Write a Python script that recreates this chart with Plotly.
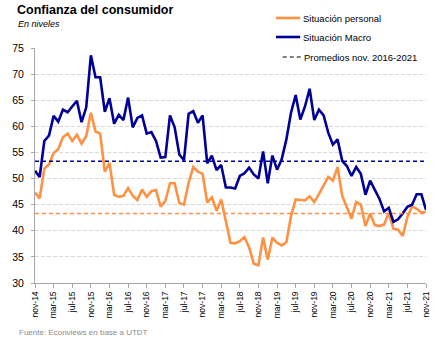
import plotly.graph_objects as go

# Etiquetas mensuales nov-14 ... nov-21
MESES = ["ene", "feb", "mar", "abr", "may", "jun", "jul", "ago", "sep", "oct", "nov", "dic"]
periodos = []
anio, mes = 2014, 10
for _ in range(85):
    periodos.append(f"{MESES[mes]}-{str(anio)[2:]}")
    mes += 1
    if mes == 12:
        mes = 0
        anio += 1

situacion_personal = [
    47.3, 46.2, 51.9, 52.7, 54.9, 55.6, 57.9, 58.6, 57.2, 58.4, 56.7, 58.1,
    62.6, 59.0, 58.6, 51.3, 53.0, 46.9, 46.5, 46.7, 48.2, 46.7, 45.9, 47.9,
    46.5, 47.6, 47.8, 44.6, 45.7, 49.1, 49.1, 45.3, 45.0, 49.2, 52.2, 51.3,
    50.9, 45.4, 46.4, 43.8, 46.0, 41.5, 37.7, 37.6, 38.0, 38.8, 36.8, 33.7,
    33.4, 38.7, 34.5, 38.7, 37.7, 37.2, 37.8, 42.8, 46.0, 45.9, 45.8, 46.6,
    45.5, 47.0, 48.8, 50.3, 49.6, 52.2, 46.7, 44.6, 42.3, 45.5, 45.0, 40.9,
    43.3, 41.1, 40.9, 41.2, 43.4, 40.4, 40.2, 39.0, 42.6, 44.7, 44.2, 43.5,
    43.6,
]

situacion_macro = [
    51.5, 50.3, 57.2, 58.2, 62.0, 60.9, 63.2, 62.7, 63.8, 64.9, 60.8, 63.6,
    73.6, 69.4, 69.4, 62.8, 65.4, 60.5, 62.2, 61.2, 65.5, 59.8, 61.6, 62.1,
    58.6, 58.9, 57.2, 54.0, 54.1, 62.1, 59.8, 54.6, 53.5, 62.4, 62.9, 60.7,
    62.1, 52.9, 54.4, 51.6, 52.6, 48.3, 48.3, 48.1, 50.5, 51.0, 52.1, 50.8,
    50.0, 55.2, 49.1, 54.4, 51.7, 53.7, 57.5, 62.6, 66.0, 61.3, 63.8, 67.2,
    61.2, 63.2, 62.1, 58.8, 56.5, 57.5, 53.4, 52.4, 50.5, 52.2, 50.9, 46.9,
    49.6, 47.9, 46.1, 43.7, 44.4, 41.7, 42.2, 43.3, 44.6, 45.0, 47.0, 47.0,
    44.0,
]

# Promedios nov. 2016-2021
promedio_personal = 43.3
promedio_macro = 53.3

tick_periodos = periodos[::4]
y_ticks = [30, 35, 40, 45, 50, 55, 60, 65, 70, 75]

NARANJA = "#FF9142"
AZUL = "#000099"
FUENTE = "Liberation Sans, Arial, sans-serif"
GUION = "4px,3px"

fig = go.Figure()

fig.add_trace(go.Scatter(
    x=periodos, y=situacion_personal, mode="lines",
    name="Situación personal", line=dict(color=NARANJA, width=2.6),
))
fig.add_trace(go.Scatter(
    x=periodos, y=situacion_macro, mode="lines",
    name="Situación Macro", line=dict(color=AZUL, width=2.6),
))
fig.add_trace(go.Scatter(
    x=periodos, y=[promedio_macro] * len(periodos), mode="lines",
    name="Promedio Situación Macro", hoverinfo="skip",
    line=dict(color=AZUL, width=1.4, dash=GUION),
))
fig.add_trace(go.Scatter(
    x=periodos, y=[promedio_personal] * len(periodos), mode="lines",
    name="Promedio Situación personal", hoverinfo="skip",
    line=dict(color=NARANJA, width=1.4, dash=GUION),
))

L, T, W, H = 24, 48, 404, 235


def px_x(p):
    return (p - L) / W


def px_y(p):
    return (T + H - p) / H


# Leyenda dibujada a mano: muestra de línea + texto
leyenda = [
    ("Situación personal", NARANJA, 2.6, "solid", 273, 298, 18),
    ("Situación Macro", AZUL, 2.6, "solid", 273, 298, 37),
    ("Promedios nov. 2016-2021", "#000000", 1.2, GUION, 280, 299, 57),
]
shapes = []
annotations = []
for texto, color, ancho, estilo, x0, x1, yc in leyenda:
    shapes.append(dict(
        type="line", xref="paper", yref="paper",
        x0=px_x(x0), x1=px_x(x1), y0=px_y(yc), y1=px_y(yc),
        line=dict(color=color, width=ancho, dash=estilo),
    ))
    annotations.append(dict(
        text=texto, x=px_x(x1 + 1), y=px_y(yc), xref="paper", yref="paper",
        xanchor="left", yanchor="middle", showarrow=False,
        font=dict(size=9.5, color="#000000"),
    ))

annotations += [
    dict(text="<b>Confianza del consumidor</b>", x=px_x(3), y=px_y(10),
         xref="paper", yref="paper", xanchor="left", yanchor="middle",
         showarrow=False, font=dict(size=12.5, color="#000000")),
    dict(text="<i>En niveles</i>", x=px_x(4), y=px_y(24),
         xref="paper", yref="paper", xanchor="left", yanchor="middle",
         showarrow=False, font=dict(size=9, color="#000000")),
    dict(text="Fuente: Econviews en base a UTDT", x=px_x(5), y=px_y(332),
         xref="paper", yref="paper", xanchor="left", yanchor="middle",
         showarrow=False, font=dict(size=8, color="#8c8c8c")),
]

fig.update_layout(
    width=443, height=340,
    margin=dict(l=L, r=443 - L - W, t=T, b=340 - T - H, pad=0),
    paper_bgcolor="white", plot_bgcolor="white",
    font=dict(family=FUENTE, size=9, color="#000000"),
    showlegend=False,
    xaxis=dict(
        type="category", range=[0, len(periodos) - 1],
        tickmode="array", tickvals=tick_periodos, ticktext=tick_periodos,
        tickangle=-90, tickfont=dict(size=8.5),
        ticks="outside", ticklen=4, tickcolor="#a6a6a6",
        showline=True, linecolor="#a6a6a6", linewidth=1,
        showgrid=False, zeroline=False,
    ),
    yaxis=dict(
        range=[30, 75], tickmode="array", tickvals=y_ticks,
        tickfont=dict(size=10.5), ticklabelstandoff=5,
        ticks="outside", ticklen=3, tickcolor="#a6a6a6",
        showline=True, linecolor="#a6a6a6", linewidth=1,
        showgrid=True, gridcolor="#d9d9d9", griddash="4px,2px", gridwidth=1,
        zeroline=False,
    ),
    shapes=shapes,
    annotations=annotations,
)

fig.write_html("out.html")
